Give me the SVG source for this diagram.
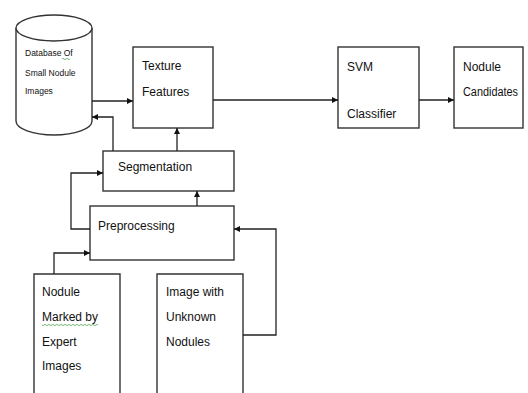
<svg xmlns="http://www.w3.org/2000/svg" width="528" height="393" viewBox="0 0 528 393">
  <defs>
    <marker id="arrow" viewBox="0 0 10 10" refX="10" refY="5" markerWidth="6" markerHeight="6" markerUnits="userSpaceOnUse" orient="auto">
      <path d="M0,0 L10,5 L0,10 z" fill="#111"/>
    </marker>
    <style>
      .box { fill: #fff; stroke: #333; stroke-width: 1.4; }
      .open { fill: none; stroke: #333; stroke-width: 1.4; }
      .label { font-family: "Liberation Sans", Arial, sans-serif; font-size: 12px; fill: #111; }
      .small { font-family: "Liberation Sans", Arial, sans-serif; font-size: 8.5px; fill: #111; }
      .link { fill: none; stroke: #222; stroke-width: 1.3; marker-end: url(#arrow); }
      .squiggle { fill: none; stroke: #3a9a3a; stroke-width: 0.7; }
    </style>
  </defs>

  <rect width="528" height="393" fill="#fff"/>

  <!-- database cylinder -->
  <g id="database">
    <path class="box" d="M16,28 L16,121 A38,14 0 0 0 92,121 L92,28"/>
    <ellipse class="box" cx="54" cy="28" rx="38" ry="13"/>
    <text class="small" x="25" y="56">Database Of</text>
    <path class="squiggle" d="M62,59 q1,-1.2 2,0 t2,0 t2,0 t2,0"/>
    <text class="small" x="25" y="76">Small Nodule</text>
    <text class="small" x="25" y="94">Images</text>
  </g>

  <g id="texture-features">
    <rect class="box" x="133" y="47" width="80" height="81"/>
    <text class="label" x="142" y="70">Texture</text>
    <text class="label" x="142" y="96">Features</text>
  </g>

  <g id="svm-classifier">
    <rect class="box" x="338" y="47" width="81" height="81"/>
    <text class="label" x="347" y="71">SVM</text>
    <text class="label" x="347" y="118">Classifier</text>
  </g>

  <g id="nodule-candidates">
    <rect class="box" x="454" y="47" width="69" height="81"/>
    <text class="label" x="463" y="71">Nodule</text>
    <text class="label" x="463" y="96" textLength="55" lengthAdjust="spacingAndGlyphs">Candidates</text>
  </g>

  <g id="segmentation">
    <rect class="box" x="103" y="151" width="131" height="40"/>
    <text class="label" x="118" y="171">Segmentation</text>
  </g>

  <g id="preprocessing">
    <rect class="box" x="90" y="206" width="144" height="54"/>
    <text class="label" x="98" y="230">Preprocessing</text>
  </g>

  <!-- input boxes run past the bottom edge -->
  <g id="expert-images">
    <path class="open" d="M34,394 L34,274 L120,274 L120,394"/>
    <text class="label" x="42" y="296">Nodule</text>
    <text class="label" x="42" y="321">Marked by</text>
    <path class="squiggle" d="M42,325 q1,1.2 2,0 t2,0 t2,0 t2,0 t2,0 t2,0 t2,0 t2,0 t2,0 t2,0 t2,0 t2,0 t2,0 t2,0 t2,0 t2,0 t2,0 t2,0 t2,0 t2,0 t2,0 t2,0 t2,0 t2,0 t2,0 t2,0 t2,0 t2,0"/>
    <text class="label" x="42" y="346">Expert</text>
    <text class="label" x="42" y="370">Images</text>
  </g>

  <g id="unknown-images">
    <path class="open" d="M157,394 L157,274 L243,274 L243,394"/>
    <text class="label" x="166" y="296">Image with</text>
    <text class="label" x="166" y="321">Unknown</text>
    <text class="label" x="166" y="346">Nodules</text>
  </g>

  <g id="connectors">
    <path class="link" d="M92,101 L133,101"/>
    <path class="link" d="M213,100 L338,100"/>
    <path class="link" d="M419,100 L454,100"/>
    <path class="link" d="M113,151 L113,117 L92,117"/>
    <path class="link" d="M177,151 L177,128"/>
    <path class="link" d="M197,206 L197,191"/>
    <path class="link" d="M90,229 L71,229 L71,173 L103,173"/>
    <path class="link" d="M54,274 L54,253 L90,253"/>
    <path class="link" d="M243,335 L276,335 L276,229 L234,229"/>
  </g>
</svg>
